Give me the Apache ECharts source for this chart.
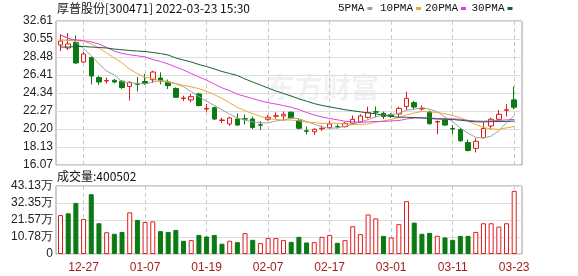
<!DOCTYPE html>
<html>
<head>
<meta charset="utf-8">
<script src="https://cdn.jsdelivr.net/npm/echarts@6/dist/echarts.min.js"></script>
<style>
  html, body { margin: 0; padding: 0; background: #fff; }
  #chart { width: 578px; height: 276px; }
</style>
</head>
<body>
<div id="chart"></div>
<script>
// Trading days shown on the daily K-line
const dates = ['12-22','12-23','12-24','12-27','12-28','12-29','12-30','12-31',
  '01-04','01-05','01-06','01-07','01-10','01-11','01-12','01-13','01-14','01-17','01-18','01-19',
  '01-20','01-21','01-24','01-25','01-26','01-27','01-28',
  '02-07','02-08','02-09','02-10','02-11','02-14','02-15','02-16','02-17','02-18','02-21','02-22',
  '02-23','02-24','02-25','02-28',
  '03-01','03-02','03-03','03-04','03-07','03-08','03-09','03-10','03-11','03-14','03-15','03-16',
  '03-17','03-18','03-21','03-22','03-23'];

// Daily prices
const opens = [29.85,29.51,30.14,27.90,28.42,26.12,25.72,25.80,25.70,25.09,
  25.40,25.66,25.86,26.06,25.60,24.86,23.71,23.54,24.23,22.50,
  22.65,21.18,20.78,21.35,21.38,21.35,20.69,21.32,21.68,21.70,
  22.13,21.18,20.00,19.89,20.24,20.36,20.49,20.47,20.86,21.04,
  21.55,22.20,22.01,21.87,21.93,22.79,23.23,22.50,22.16,21.01,
  21.24,20.26,20.15,18.65,17.99,19.21,20.55,21.32,22.35,23.55];
const closes = [30.31,29.97,27.79,28.82,26.29,25.60,25.78,25.60,24.97,25.57,
  25.34,25.43,26.75,25.72,25.18,23.85,23.77,23.92,22.90,22.58,
  21.35,21.24,21.47,20.66,21.34,20.38,20.64,21.55,21.73,21.89,
  21.49,20.29,19.95,20.17,20.29,20.78,20.46,20.86,21.32,21.70,
  22.08,22.14,21.64,21.68,22.58,23.73,22.73,22.56,20.81,21.07,
  20.66,20.20,18.86,17.74,18.79,20.26,21.32,21.89,22.42,22.70];
const lows = [29.16,29.28,27.67,27.79,25.32,25.28,25.43,25.45,24.80,23.48,
  24.51,25.26,25.49,25.34,24.80,23.77,23.42,23.27,22.79,22.19,
  21.24,20.89,20.58,20.55,20.74,20.20,20.09,21.16,21.39,21.12,
  21.39,20.15,19.57,19.52,19.98,20.26,20.26,20.38,20.74,20.93,
  21.41,21.53,21.35,21.47,21.58,22.39,22.39,22.33,20.70,19.60,
  20.55,19.63,18.75,17.62,17.51,19.14,20.17,21.16,21.64,22.47];
const highs = [31.12,31.23,30.94,29.05,28.53,26.33,26.12,25.95,25.83,25.68,
  26.18,26.52,26.90,26.72,25.89,24.97,24.03,24.23,24.37,23.08,
  22.77,21.50,21.64,22.00,21.87,21.64,21.12,21.81,22.12,22.22,
  22.22,21.35,20.47,20.29,20.61,21.12,20.72,21.01,21.76,21.89,
  22.77,22.79,22.20,22.04,22.77,24.49,23.42,22.90,22.33,21.18,
  21.39,20.66,20.32,19.00,19.14,21.01,21.52,22.39,23.08,25.06];

// Daily volume (shares)
const volumes = [247000,258000,324000,222000,379000,195000,138000,128000,140000,264000,
  216000,203000,207000,145000,140000,153000,84000,88000,121000,111000,
  121000,65000,84000,75000,132000,90000,69000,101000,101000,88000,
  77000,109000,73000,75000,109000,121000,71000,88000,176000,126000,
  251000,226000,115000,105000,189000,335000,199000,128000,134000,115000,
  105000,90000,115000,115000,140000,195000,195000,174000,195000,400502];

// Moving averages of the close
const ma5 = [31.00,30.66,30.20,29.46,28.64,27.69,26.86,26.42,25.65,25.50,
  25.45,25.38,25.61,25.76,25.68,25.39,25.05,24.49,23.92,23.40,
  22.90,22.40,21.91,21.46,21.21,21.02,20.90,20.91,21.13,21.24,
  21.46,21.39,21.07,20.76,20.44,20.30,20.33,20.51,20.74,21.02,
  21.28,21.62,21.78,21.85,22.02,22.35,22.47,22.66,22.48,22.18,
  21.57,21.06,20.32,19.71,19.25,19.17,19.39,20.00,20.94,21.72];
const ma10 = [30.43,30.37,30.35,30.31,29.97,29.51,28.93,28.36,27.79,27.07,
  26.57,26.12,26.02,25.71,25.59,25.42,25.22,25.05,24.84,24.54,
  24.15,23.73,23.20,22.69,22.31,21.96,21.65,21.41,21.30,21.23,
  21.24,21.15,20.99,20.95,20.84,20.88,20.86,20.79,20.75,20.73,
  20.79,20.98,21.15,21.30,21.52,21.82,22.05,22.22,22.17,22.10,
  21.96,21.77,21.49,21.10,20.72,20.37,20.23,20.16,20.33,20.49];
const ma20 = [31.00,30.60,30.43,30.35,30.20,29.97,29.57,29.16,28.88,28.73,
  28.61,28.48,28.19,27.96,27.67,27.33,26.98,26.58,26.18,25.81,
  25.36,24.93,24.61,24.20,23.95,23.69,23.44,23.23,23.07,22.89,
  22.70,22.44,22.10,21.82,21.58,21.42,21.26,21.10,21.03,20.98,
  21.02,21.07,21.07,21.13,21.18,21.35,21.46,21.51,21.46,21.42,
  21.38,21.38,21.32,21.20,21.12,21.10,21.14,21.19,21.25,21.30];
const ma30 = [29.62,29.62,29.68,29.68,29.62,29.57,29.51,29.39,29.31,29.22,
  29.16,29.11,28.99,28.87,28.70,28.36,28.13,27.90,27.61,27.38,
  27.10,26.81,26.58,26.35,25.95,25.60,25.26,24.91,24.57,24.28,
  23.99,23.67,23.40,23.12,22.91,22.75,22.58,22.42,22.30,22.17,
  22.06,21.95,21.78,21.65,21.56,21.55,21.52,21.47,21.41,21.35,
  21.33,21.30,21.21,21.12,21.03,21.02,21.05,21.06,21.08,21.11];

// Axis tick labels, bottom to top
const priceTicks = ['16.07','18.13','20.20','22.27','24.34','26.41','28.48','30.55','32.61'];
const volumeTicks = ['0','10.78万','21.57万','32.35万','43.13万'];
const priceMin = 16.07, priceMax = 32.61;
const volumeMax = 431300;

const titleText = '厚普股份[300471] 2022-03-23 15:30';
const volumeTitle = '成交量:' + volumes[volumes.length - 1];
const maNames = ['5PMA', '10PMA', '20PMA', '30PMA'];

const UP = '#e11b1b';
const DOWN = '#0b7a12';
const MA_COLORS = ['#a0a0a0', '#eba93a', '#e23fdc', '#14603a'];
const LABEL_EVERY = 8, LABEL_FIRST = 3;

const chart = echarts.init(document.getElementById('chart'), null, { renderer: 'canvas' });

const candleData = dates.map((d, i) => [opens[i], closes[i], lows[i], highs[i]]);
const volumeData = volumes.map((v, i) => {
  const prev = i > 0 ? closes[i - 1] : opens[i];
  const up = closes[i] >= prev;
  return {
    value: v,
    itemStyle: up
      ? { color: '#fff', borderColor: UP, borderWidth: 1 }
      : { color: DOWN, borderColor: DOWN, borderWidth: 1 }
  };
});

const showDateTick = (idx) => idx % LABEL_EVERY === LABEL_FIRST;
const dashed = { show: true, interval: showDateTick, lineStyle: { color: '#c8c8c8', type: [4, 3], width: 1 } };

const frameX = (g) => ({ gridIndex: g, type: 'value', min: 0, max: 1, show: false });
const frameY = (g, n, labels) => ({
  gridIndex: g, type: 'value', min: 0, max: n, interval: 1,
  axisLine: { show: false }, axisTick: { show: false },
  axisLabel: {
    margin: 3, color: '#222', fontSize: 12, fontFamily: 'Liberation Sans',
    formatter: (v) => labels[Math.round(v)]
  },
  splitLine: { show: true, lineStyle: { color: '#dedede', width: 1 } }
});

// hand-placed legend: name followed by a small colour swatch
const legendX = [338, 380, 425, 471.5];
const legendGraphics = [];
maNames.forEach((name, k) => {
  legendGraphics.push({
    type: 'text', left: legendX[k], top: 3,
    style: { text: name, fill: '#111', font: '11px "Liberation Mono", monospace' }
  });
  legendGraphics.push({
    type: 'rect', left: legendX[k] + name.length * 6.6 + 3, top: 7,
    shape: { width: 5, height: 3 }, style: { fill: MA_COLORS[k] }
  });
});

const option = {
  animation: false,
  grid: [
    { left: 56, top: 21, width: 466, height: 144, show: true, borderColor: '#9a9a9a', borderWidth: 1 },
    { left: 56, top: 186, width: 466, height: 68, show: true, borderColor: '#9a9a9a', borderWidth: 1 },
    { left: 60.5, top: 21, width: 453.7, height: 144 },
    { left: 60.5, top: 186, width: 453.7, height: 68 }
  ],
  xAxis: [
    frameX(0), frameX(1),
    { gridIndex: 2, type: 'category', data: dates, boundaryGap: false,
      axisLine: { show: false }, axisTick: { show: false }, axisLabel: { show: false },
      splitLine: dashed },
    { gridIndex: 3, type: 'category', data: dates, boundaryGap: false,
      axisLine: { show: false }, axisTick: { show: false },
      axisLabel: { show: true, interval: showDateTick, color: '#a31f1f', fontSize: 12,
        fontFamily: 'Liberation Sans', margin: 8 },
      splitLine: dashed }
  ],
  yAxis: [
    frameY(0, priceTicks.length - 1, priceTicks),
    frameY(1, volumeTicks.length - 1, volumeTicks),
    { gridIndex: 2, type: 'value', min: priceMin, max: priceMax, show: false, splitLine: { show: false } },
    { gridIndex: 3, type: 'value', min: 0, max: volumeMax, show: false, splitLine: { show: false } }
  ],
  graphic: [
    { type: 'text', left: 267, top: 73, z: 0,
      style: { text: '东方财富', fill: 'rgba(0,0,0,0.055)',
        font: 'bold 28px "Noto Sans CJK SC"' } },
    { type: 'text', left: 57, top: 2,
      style: { text: titleText, fill: '#111', font: '12px "Noto Sans CJK SC"' } },
    { type: 'text', left: 57, top: 170,
      style: { text: volumeTitle, fill: '#111', font: '12px "Noto Sans CJK SC"' } }
  ].concat(legendGraphics),
  series: [
    {
      type: 'candlestick', name: 'K', xAxisIndex: 2, yAxisIndex: 2,
      data: candleData, barWidth: 5, clip: false,
      itemStyle: { color: '#fff', color0: DOWN, borderColor: UP, borderColor0: DOWN, borderWidth: 1 }
    },
    ...[ma5, ma10, ma20, ma30].map((arr, k) => ({
      type: 'line', name: maNames[k], xAxisIndex: 2, yAxisIndex: 2,
      data: arr, showSymbol: false, symbol: 'none', clip: false,
      lineStyle: { color: MA_COLORS[k], width: 1 }, z: 3
    })),
    {
      type: 'bar', name: 'VOL', xAxisIndex: 3, yAxisIndex: 3,
      data: volumeData, barWidth: 5, clip: false
    }
  ]
};

chart.setOption(option);
</script>
</body>
</html>
